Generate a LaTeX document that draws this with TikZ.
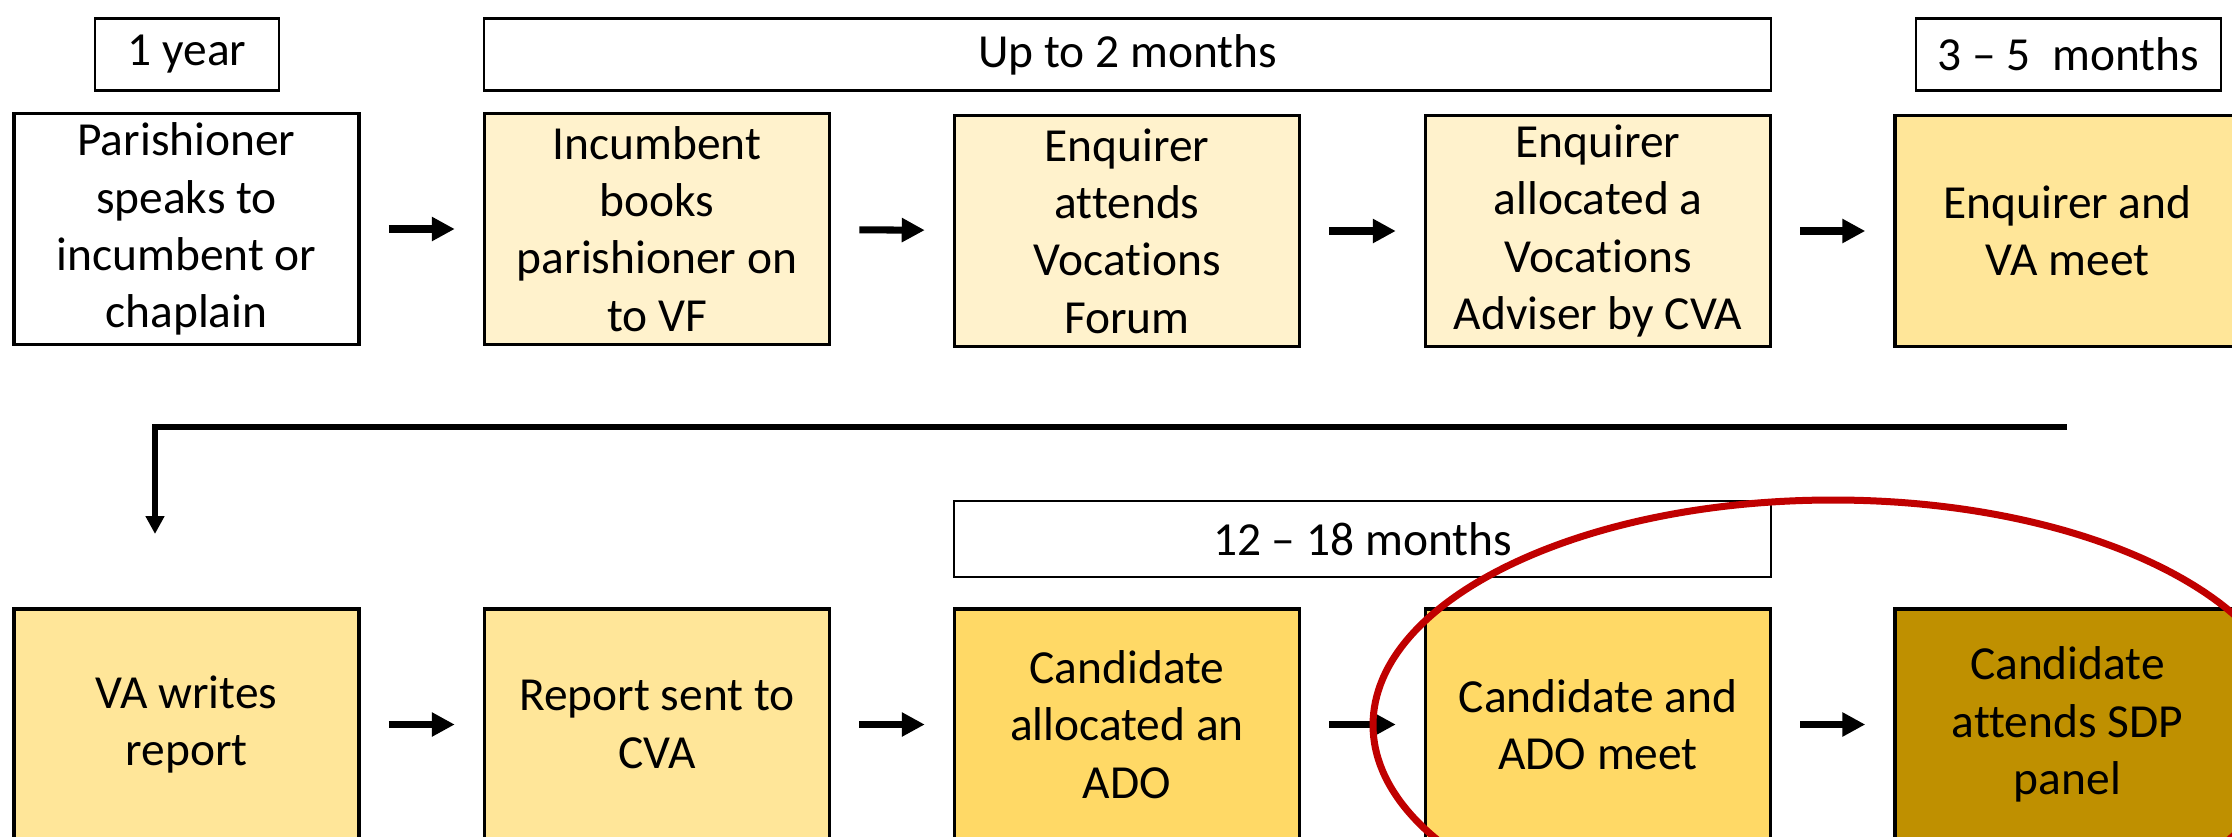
\documentclass[tikz,border=0pt]{standalone}
\usepackage{fontspec}
\setmainfont[Ligatures=NoCommon]{Carlito}
\usetikzlibrary{arrows.meta}

\definecolor{paleyellow}{HTML}{FFF2CC}
\definecolor{lightgold}{HTML}{FFE699}
\definecolor{midgold}{HTML}{FFD966}
\definecolor{darkgold}{HTML}{BF9000}
\definecolor{ringred}{HTML}{C00000}

\begin{document}
\begin{tikzpicture}[
    stage/.style={draw, line width=1pt, minimum width=3.45cm, minimum height=2.31cm,
      align=center, inner sep=0pt, font=\fontsize{13.5}{16.3}\selectfont},
    span/.style={draw, line width=0.6pt, minimum height=0.72cm, inner sep=0pt,
      font=\fontsize{13.5}{16.3}\selectfont},
    next/.style={-{Triangle[length=0.23cm,width=0.23cm]}, line width=2pt,
      shorten <=0.28cm, shorten >=0.28cm},
    back/.style={-{Triangle[length=0.18cm,width=0.18cm]}, line width=1.5pt}
  ]

    \clip (0,0) rectangle (22.32,8.36);

    % time spans
    \node[span, minimum width=1.84cm] (t1) at (1.87, 7.815) {1 year};
    \node[span, minimum width=12.87cm] (t2) at (11.275, 7.815) {Up to 2 months};
    \node[span, minimum width=3.05cm] (t3) at (20.685, 7.815) {3 -- 5\ \ months};
    \node[span, minimum width=8.17cm, minimum height=0.76cm] (t4) at (13.625, 2.97) {12 -- 18 months};

    % first row
    \node[stage] (a) at (1.865, 6.07) {Parishioner\\speaks to\\incumbent or\\chaplain};
    \node[stage, fill=paleyellow] (b) at (6.57, 6.07) {Incumbent\\books\\parishioner on\\to VF};
    \node[stage, fill=paleyellow] (c) at (11.27, 6.05) {Enquirer\\attends\\Vocations\\Forum};
    \node[stage, fill=paleyellow] (d) at (15.98, 6.05) {Enquirer\\allocated a\\Vocations\\Adviser by CVA};
    \node[stage, fill=lightgold] (e) at (20.675, 6.05) {Enquirer and\\VA meet};

    % second row
    \node[stage, fill=lightgold] (f) at (1.865, 1.115) {VA writes\\report};
    \node[stage, fill=lightgold] (g) at (6.57, 1.115) {Report sent to\\CVA};
    \node[stage, fill=midgold] (h) at (11.27, 1.115) {Candidate\\allocated an\\ADO};
    \node[stage, fill=midgold] (i) at (15.98, 1.115) {Candidate and\\ADO meet};
    \node[stage, fill=darkgold] (j) at (20.675, 1.115) {Candidate\\attends SDP\\panel};

    \draw [next] (a) -- (b);
    \draw [next] (b) -- (c);
    \draw [next] (c) -- (d);
    \draw [next] (d) -- (e);
    \draw [next] (f) -- (g);
    \draw [next] (g) -- (h);
    \draw [next] (h) -- (i);
    \draw [next] (i) -- (j);

    % return to the start of the second row
    \coordinate (r) at (20.67, 4.09);
    \coordinate (s) at (1.55, 3.02);
    \draw [back] (r) -- (r -| s) -- (s);

    \draw [ringred, line width=0.07cm] (18.33, 1.11) ellipse [x radius=4.60, y radius=2.25];

  \end{tikzpicture}
\end{document}
